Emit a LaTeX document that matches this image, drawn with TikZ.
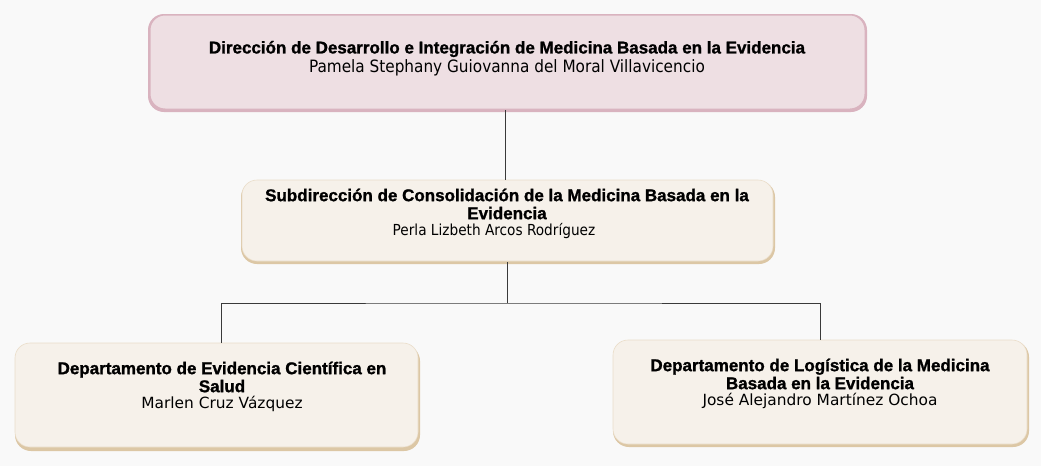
\documentclass[tikz,border=0pt]{standalone}
\usepackage{fontspec}
\setmainfont{Liberation Sans}[BoldFeatures={FakeBold=1.2}]
\newfontfamily\namefont{DejaVu Sans}
\newfontfamily\namefontc{DejaVu Sans Condensed}
\definecolor{bgc}{HTML}{F9F9F9}
\definecolor{pinkfill}{HTML}{EEDFE3}
\definecolor{pinkedge}{HTML}{D9B3BF}
\definecolor{beigefill}{HTML}{F6F1EA}
\definecolor{beigeedge}{HTML}{DCC7A5}
\definecolor{linec}{HTML}{3A3A3A}
\tikzset{
  boxshadow/.style={rounded corners=16pt, fill=#1},
  beigebox/.style={rounded corners=15pt, fill=beigefill, draw=beigeedge!60!white, line width=0.6pt},
  titletext/.style={font=\bfseries\fontsize{17}{18}\selectfont, align=center, inner sep=0pt},
  persname/.style={inner sep=0pt, font=\namefont\fontsize{#1}{18}\selectfont},
  persnamec/.style={inner sep=0pt, font=\namefontc\fontsize{#1}{18}\selectfont},
  conn/.style={draw=linec, line width=0.8pt},
}
\begin{document}
\begin{tikzpicture}[x=1pt,y=-1pt]
\fill[bgc] (0,0) rectangle (1041,466);
\useasboundingbox (0,0) rectangle (1041,466);
% top box
\fill[boxshadow=pinkedge] (148,14) rectangle (867,112);
\draw[rounded corners=15pt, fill=pinkfill, draw=pinkedge, line width=1pt] (150,15) rectangle (865,109);
\node[titletext] (t1) at (507,49) {Dirección de Desarrollo e Integración de Medicina Basada en la Evidencia};
\node[persnamec=17] (n1) at (507,68) {Pamela Stephany Guiovanna del Moral Villavicencio};
\coordinate (topb) at (505,110);
% middle box
\fill[boxshadow=beigeedge] (241,181) rectangle (775,264);
\draw[beigebox] (242,180) rectangle (773,261);
\node[titletext] (t2) at (507,204) {Subdirección de Consolidación de la Medicina Basada en la\\Evidencia};
\node[persnamec=15.2] (n2) at (494,231) {Perla Lizbeth Arcos Rodríguez};
\coordinate (midt) at (505,180);
\coordinate (midb) at (507,262);
% left box
\fill[boxshadow=beigeedge] (15,345) rectangle (420,451);
\draw[beigebox] (15,343) rectangle (418,447);
\node[titletext] (t3) at (222,377) {Departamento de Evidencia Científica en\\Salud};
\node[persname=15.4] (n3) at (222,404) {Marlen Cruz Vázquez};
\coordinate (lt) at (221,343);
% right box
\fill[boxshadow=beigeedge] (613,341) rectangle (1029,447);
\draw[beigebox] (613,340) rectangle (1027,444);
\node[titletext] (t4) at (820,374) {Departamento de Logística de la Medicina\\Basada en la Evidencia};
\node[persname=15.4] (n4) at (820,401) {José Alejandro Martínez Ochoa};
\coordinate (rt) at (820,340);
% connectors
\coordinate (bus) at (507,303);
\draw[conn] (topb) -- (midt);
\draw[conn] (midb) -- (bus);
\draw[conn] (lt) |- (bus) -| (rt);
\end{tikzpicture}
\end{document}
